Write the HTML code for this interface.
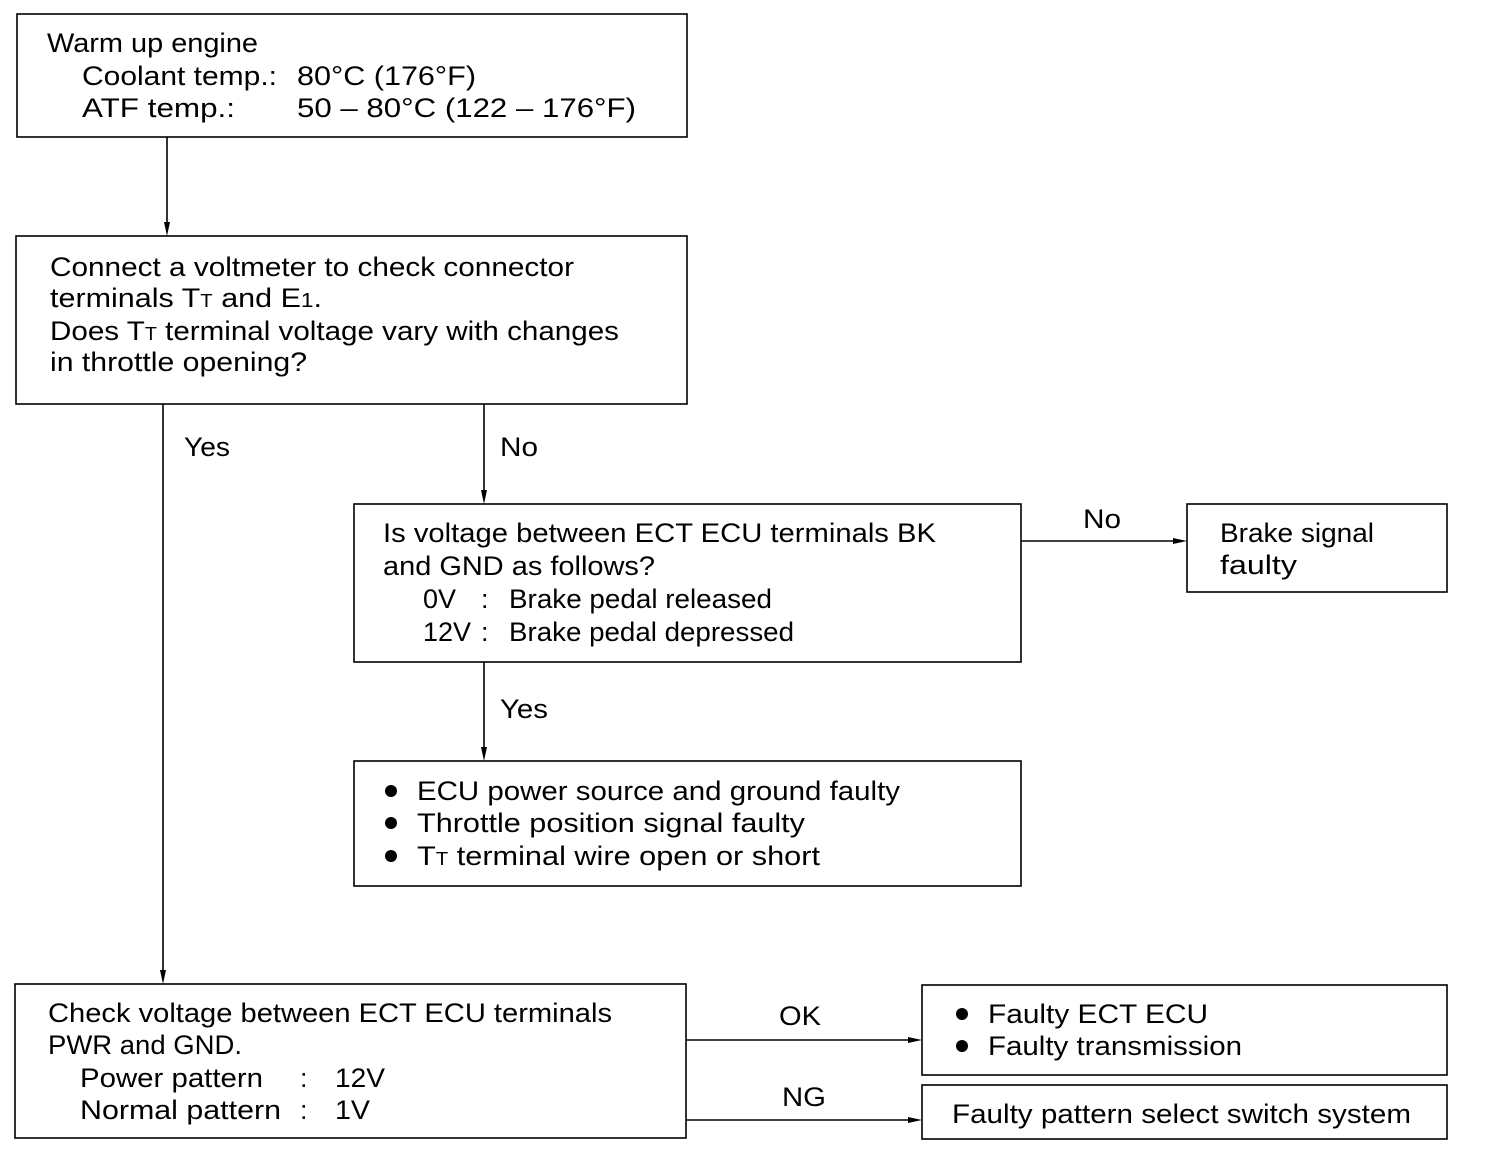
<!DOCTYPE html>
<html><head><meta charset="utf-8"><style>html,body{margin:0;padding:0;background:#fff}svg{display:block}</style></head>
<body>
<svg width="1504" height="1166" viewBox="0 0 1504 1166" xmlns="http://www.w3.org/2000/svg" font-family="Liberation Sans, Arial, sans-serif" font-size="27" fill="#000">
<g fill="none" stroke="#000" stroke-width="1.6">
<rect x="17" y="14" width="670" height="123"/>
<rect x="16" y="236" width="671" height="168"/>
<rect x="354" y="504" width="667" height="158"/>
<rect x="1187" y="504" width="260" height="88"/>
<rect x="354" y="761" width="667" height="125"/>
<rect x="15" y="984" width="671" height="154"/>
<rect x="922" y="985" width="525" height="90"/>
<rect x="922" y="1085" width="525" height="54"/>
<line x1="167" y1="137" x2="167" y2="224"/>
<line x1="163" y1="404" x2="163" y2="972"/>
<line x1="484" y1="404" x2="484" y2="492"/>
<line x1="484" y1="662" x2="484" y2="749"/>
<line x1="1021" y1="541" x2="1175" y2="541"/>
<line x1="686" y1="1040" x2="910" y2="1040"/>
<line x1="686" y1="1120" x2="910" y2="1120"/>
</g>
<g>
<polygon points="164,222 170,222 167,236"/>
<polygon points="160,970 166,970 163,984"/>
<polygon points="481,490 487,490 484,504"/>
<polygon points="481,747 487,747 484,761"/>
<polygon points="1173,538 1173,544 1187,541"/>
<polygon points="908,1037 908,1043 922,1040"/>
<polygon points="908,1117 908,1123 922,1120"/>
</g>
<g>
<text x="47" y="52" textLength="211" lengthAdjust="spacingAndGlyphs">Warm up engine</text>
<text x="82" y="85" textLength="195" lengthAdjust="spacingAndGlyphs">Coolant temp.:</text>
<text x="297" y="85" textLength="179" lengthAdjust="spacingAndGlyphs">80°C (176°F)</text>
<text x="82" y="117" textLength="153" lengthAdjust="spacingAndGlyphs">ATF temp.:</text>
<text x="297" y="117" textLength="339" lengthAdjust="spacingAndGlyphs">50 – 80°C (122 – 176°F)</text>

<text x="50" y="276" textLength="524" lengthAdjust="spacingAndGlyphs">Connect a voltmeter to check connector</text>
<text x="50" y="307" textLength="272" lengthAdjust="spacingAndGlyphs">terminals T<tspan font-size="18">T</tspan>  and E<tspan font-size="20">1</tspan>.</text>
<text x="50" y="340" textLength="569" lengthAdjust="spacingAndGlyphs">Does T<tspan font-size="18">T</tspan>  terminal voltage vary with changes</text>
<text x="50" y="371" textLength="257" lengthAdjust="spacingAndGlyphs">in throttle opening?</text>

<text x="184" y="456" textLength="46" lengthAdjust="spacingAndGlyphs">Yes</text>
<text x="500" y="456" textLength="38" lengthAdjust="spacingAndGlyphs">No</text>
<text x="1083" y="528" textLength="38" lengthAdjust="spacingAndGlyphs">No</text>
<text x="500" y="718" textLength="48" lengthAdjust="spacingAndGlyphs">Yes</text>
<text x="779" y="1025" textLength="42" lengthAdjust="spacingAndGlyphs">OK</text>
<text x="782" y="1106" textLength="44" lengthAdjust="spacingAndGlyphs">NG</text>

<text x="383" y="542" textLength="553" lengthAdjust="spacingAndGlyphs">Is voltage between ECT ECU terminals BK</text>
<text x="383" y="575" textLength="272" lengthAdjust="spacingAndGlyphs">and GND as follows?</text>
<text x="423" y="608">0V</text>
<text x="481" y="608">:</text>
<text x="509" y="608" textLength="263" lengthAdjust="spacingAndGlyphs">Brake pedal released</text>
<text x="423" y="641">12V</text>
<text x="481" y="641">:</text>
<text x="509" y="641" textLength="285" lengthAdjust="spacingAndGlyphs">Brake pedal depressed</text>

<text x="1220" y="542" textLength="154" lengthAdjust="spacingAndGlyphs">Brake signal</text>
<text x="1220" y="574" textLength="77" lengthAdjust="spacingAndGlyphs">faulty</text>

<circle cx="391" cy="791" r="6"/><circle cx="391" cy="823" r="6"/><circle cx="391" cy="856" r="6"/>
<text x="417" y="800" textLength="483" lengthAdjust="spacingAndGlyphs">ECU power source and ground faulty</text>
<text x="417" y="832" textLength="388" lengthAdjust="spacingAndGlyphs">Throttle position signal faulty</text>
<text x="417" y="865" textLength="403" lengthAdjust="spacingAndGlyphs">T<tspan font-size="18">T</tspan>  terminal wire open or short</text>

<text x="48" y="1022" textLength="564" lengthAdjust="spacingAndGlyphs">Check voltage between ECT ECU terminals</text>
<text x="48" y="1054" textLength="194" lengthAdjust="spacingAndGlyphs">PWR and GND.</text>
<text x="80" y="1087" textLength="183" lengthAdjust="spacingAndGlyphs">Power pattern</text>
<text x="300" y="1087">:</text>
<text x="335" y="1087" textLength="50" lengthAdjust="spacingAndGlyphs">12V</text>
<text x="80" y="1119" textLength="201" lengthAdjust="spacingAndGlyphs">Normal pattern</text>
<text x="300" y="1119">:</text>
<text x="335" y="1119" textLength="35" lengthAdjust="spacingAndGlyphs">1V</text>

<circle cx="962" cy="1014" r="6"/><circle cx="962" cy="1046" r="6"/>
<text x="988" y="1023" textLength="220" lengthAdjust="spacingAndGlyphs">Faulty ECT ECU</text>
<text x="988" y="1055" textLength="254" lengthAdjust="spacingAndGlyphs">Faulty transmission</text>
<text x="952" y="1123" textLength="459" lengthAdjust="spacingAndGlyphs">Faulty pattern select switch system</text>
</g>
</svg>
</body></html>
